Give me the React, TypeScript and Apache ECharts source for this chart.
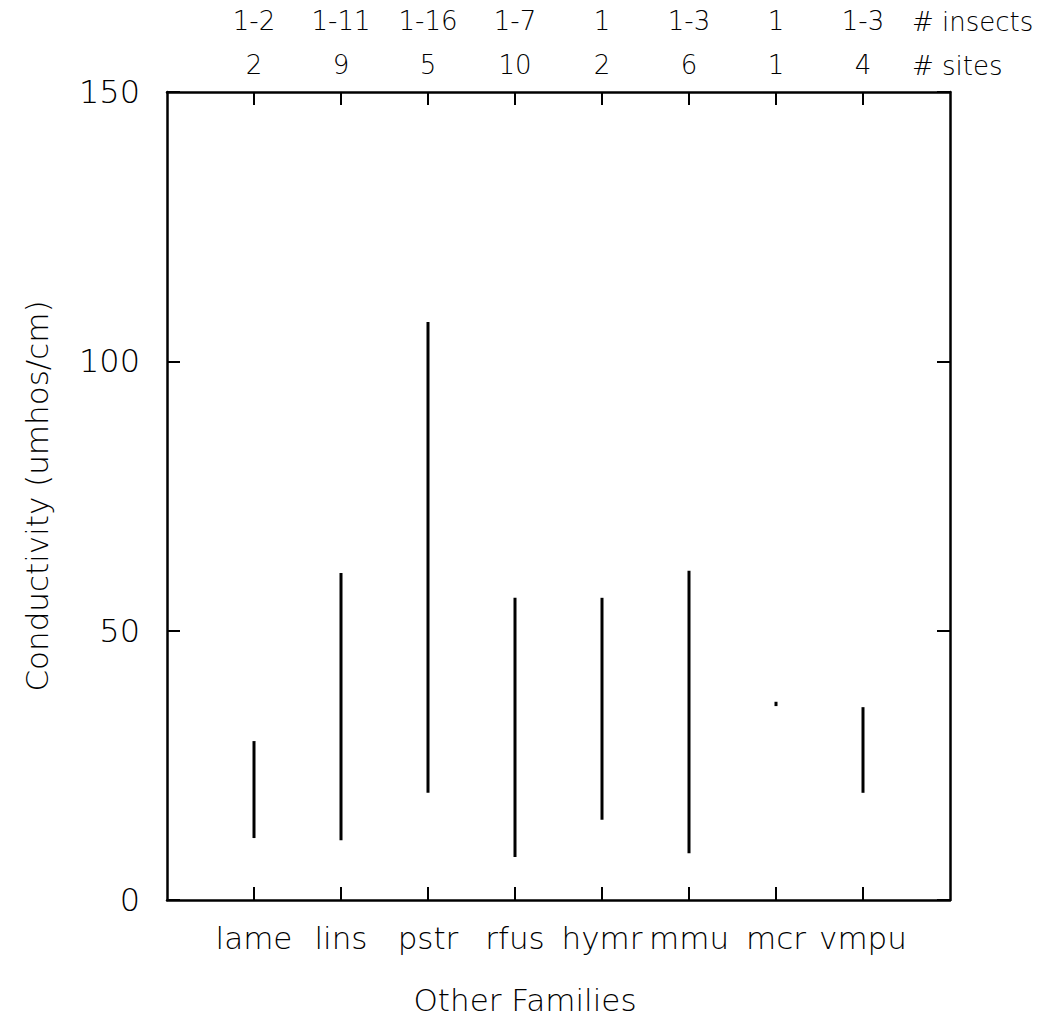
import React, { useEffect, useRef } from "react";
import * as echarts from "echarts";

const categories = ["lame", "lins", "pstr", "rfus", "hymr", "mmu", "mcr", "vmpu"];
const lowValues = [11.5, 11.1, 19.9, 8.0, 14.9, 8.7, 36.0, 19.9];
const highValues = [29.5, 60.7, 107.3, 56.1, 56.1, 61.1, 36.8, 35.8];
const insectsLabels = ["1-2", "1-11", "1-16", "1-7", "1", "1-3", "1", "1-3"];
const sitesLabels = ["2", "9", "5", "10", "2", "6", "1", "4"];
const yTickValues = [0, 50, 100, 150];

const FONT = "'DejaVu Sans', 'Liberation Sans', Arial, sans-serif";
const WEIGHT = 200;

export default function App() {
  const ref = useRef<HTMLDivElement>(null);
  useEffect(() => {
    document.body.style.margin = "0";
    const chart = echarts.init(ref.current!, null, { renderer: "svg" });
    const data = categories.map((c, i) => [i + 1, lowValues[i], highValues[i]]);
    const catPositions = categories.map((_, i) => i + 1);
    const xBase = {
      type: "value",
      min: 0,
      max: categories.length + 1,
      interval: 1,
      splitLine: { show: false },
      axisLine: { show: true, onZero: false, lineStyle: { color: "#000", width: 2.5 } },
      axisTick: {
        show: true,
        inside: true,
        length: 13,
        lineStyle: { color: "#000", width: 2 },
        customValues: catPositions,
      },
    };
    const yBase = {
      type: "value",
      min: 0,
      max: 150,
      interval: 50,
      splitLine: { show: false },
      axisLine: { show: true, onZero: false, lineStyle: { color: "#000", width: 2.5 } },
      axisTick: { show: true, inside: true, length: 13, lineStyle: { color: "#000", width: 2 }, customValues: yTickValues },
    };
    chart.setOption({
      animation: false,
      backgroundColor: "#fff",
      textStyle: { fontFamily: FONT, color: "#000", fontWeight: WEIGHT },
      grid: { left: 167, right: 97, top: 92, bottom: 130, containLabel: false, outerBoundsMode: "none" },
      xAxis: [
        {
          ...xBase,
          position: "bottom",
          axisLabel: {
            show: true,
            margin: 22,
            fontSize: 31,
            color: "#000",
            fontFamily: FONT,
            fontWeight: WEIGHT,
            customValues: catPositions,
            formatter: (v: number) => categories[Math.round(v) - 1] ?? "",
          },
        },
        {
          ...xBase,
          position: "top",
          axisLabel: {
            show: true,
            margin: 5,
            fontSize: 26,
            lineHeight: 44,
            color: "#000",
            fontFamily: FONT,
            fontWeight: WEIGHT,
            customValues: catPositions,
            formatter: (v: number) => {
              const i = Math.round(v) - 1;
              return insectsLabels[i] !== undefined ? insectsLabels[i] + "\n" + sitesLabels[i] : "";
            },
          },
        },
      ],
      yAxis: [
        {
          ...yBase,
          position: "left",
          name: "Conductivity (umhos/cm)",
          nameLocation: "middle",
          nameGap: 115,
          nameRotate: 90,
          nameTextStyle: { fontSize: 31, color: "#000", fontFamily: FONT, fontWeight: WEIGHT },
          axisLabel: { show: true, margin: 27, fontSize: 32, color: "#000", fontFamily: FONT, fontWeight: WEIGHT, customValues: yTickValues },
        },
        {
          ...yBase,
          position: "right",
          axisLabel: { show: false },
        },
      ],
      graphic: [
        { type: "text", left: 912, top: 9, style: { text: "# insects", font: `${WEIGHT} 26px ${FONT}`, fill: "#000" } },
        { type: "text", left: 912, top: 53, style: { text: "# sites", font: `${WEIGHT} 26px ${FONT}`, fill: "#000" } },
        { type: "text", x: 525, y: 1000, style: { text: "Other Families", font: `${WEIGHT} 31px ${FONT}`, fill: "#000", textAlign: "center", textVerticalAlign: "middle" } },
      ],
      series: [
        {
          type: "custom",
          xAxisIndex: 0,
          yAxisIndex: 0,
          data,
          renderItem: (params: any, api: any) => {
            const x = api.value(0);
            const lo = api.coord([x, api.value(1)]);
            const hi = api.coord([x, api.value(2)]);
            return {
              type: "line",
              shape: { x1: lo[0], y1: lo[1], x2: hi[0], y2: hi[1] },
              style: { stroke: "#000", lineWidth: 3 },
            };
          },
        },
      ],
    });
    return () => chart.dispose();
  }, []);
  return <div ref={ref} style={{ width: 1047, height: 1030, position: "absolute", left: 0, top: 0 }} />;
}
